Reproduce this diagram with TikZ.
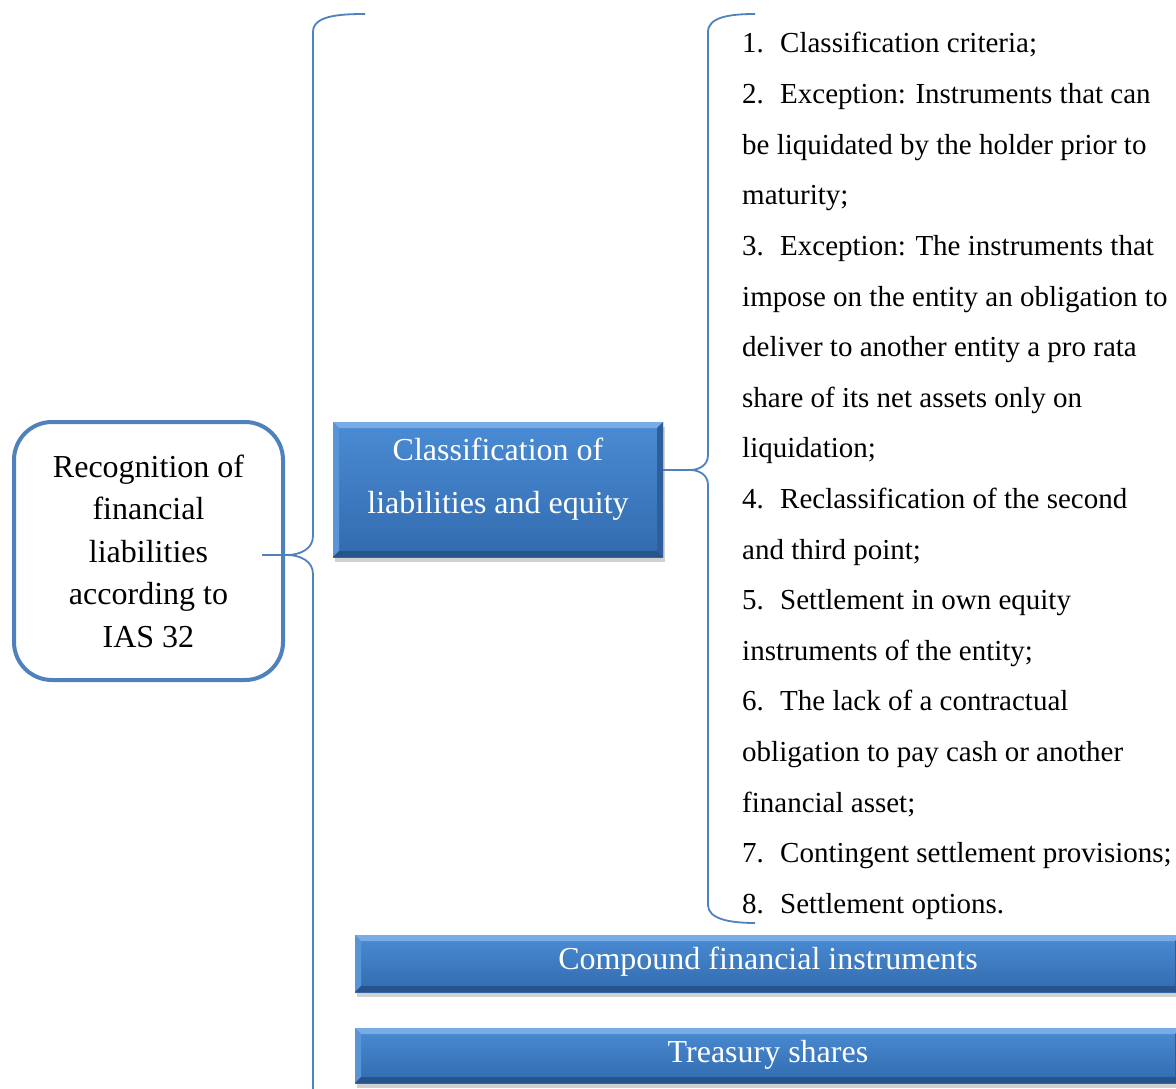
\documentclass[tikz,border=0pt]{standalone}
\usepackage{fontspec}
\setmainfont{Liberation Serif}
\usetikzlibrary{shadows,calc}

\definecolor{linkblue}{RGB}{79,129,189}
\definecolor{boxtop}{RGB}{74,140,212}
\definecolor{boxbot}{RGB}{50,106,174}
\definecolor{bevhi}{RGB}{120,172,230}
\definecolor{bevlo}{RGB}{40,84,142}

\newcommand\itemnum[1]{\makebox[38pt][l]{#1}}

\tikzset{
  link/.style={draw=linkblue, line width=1.8pt},
  bluebox/.style={
    rectangle, inner sep=0pt, top color=boxtop, bottom color=boxbot,
    drop shadow={opacity=0.3, shadow xshift=2pt, shadow yshift=-5pt, fill=black!60},
    path picture={
      \fill[bevhi] (path picture bounding box.north west) -- (path picture bounding box.north east)
        -- ([xshift=-6pt,yshift=-6pt]path picture bounding box.north east)
        -- ([xshift=6pt,yshift=-6pt]path picture bounding box.north west) -- cycle;
      \fill[boxtop!92!white] (path picture bounding box.north west) -- (path picture bounding box.south west)
        -- ([xshift=6pt,yshift=6pt]path picture bounding box.south west)
        -- ([xshift=6pt,yshift=-6pt]path picture bounding box.north west) -- cycle;
      \fill[bevlo] (path picture bounding box.south west) -- (path picture bounding box.south east)
        -- ([xshift=-6pt,yshift=6pt]path picture bounding box.south east)
        -- ([xshift=6pt,yshift=6pt]path picture bounding box.south west) -- cycle;
      \fill[boxbot!90!black] (path picture bounding box.north east) -- (path picture bounding box.south east)
        -- ([xshift=-6pt,yshift=6pt]path picture bounding box.south east)
        -- ([xshift=-6pt,yshift=-6pt]path picture bounding box.north east) -- cycle;
    }},
  boxlabel/.style={text=white, inner sep=0pt, align=center, font=\fontsize{32}{53}\selectfont},
  rootbox/.style={draw=linkblue, line width=4pt, rounded corners=38pt, fill=white,
    minimum width=269pt, minimum height=258pt, inner sep=0pt, align=center,
    font=\fontsize{32}{42.5}\selectfont},
  listline/.style={anchor=base west, inner sep=0pt, font=\fontsize{29}{29}\selectfont},
}

\begin{document}
\begin{tikzpicture}[x=1pt, y=-1pt]
  \useasboundingbox (0,0) rectangle (1176,1089);

  % root topic
  \node[rootbox] (recog) at (148.5,551)
    {Recognition of\\financial\\liabilities\\according to\\IAS 32};

  % first-level topics
  \node[bluebox, minimum width=330pt, minimum height=135pt] (class) at (498,489.5) {};
  \node[boxlabel] (classlbl) at (498,479) {Classification of\\liabilities and equity};

  \node[bluebox, minimum width=826pt, minimum height=57pt] (compound) at (768,963.5) {};
  \node[boxlabel] (compoundlbl) at (768,962) {Compound financial instruments};

  \node[bluebox, minimum width=826pt, minimum height=55pt] (treasury) at (768,1055.5) {};
  \node[boxlabel] (treasurylbl) at (768,1055) {Treasury shares};

  % items of the classification topic
  \foreach [count=\k] \t in {
      {\itemnum{1.}Classification criteria;},
      {\itemnum{2.}Exception: Instruments that can},
      {be liquidated by the holder prior to},
      {maturity;},
      {\itemnum{3.}Exception: The instruments that},
      {impose on the entity an obligation to},
      {deliver to another entity a pro rata},
      {share of its net assets only on},
      {liquidation;},
      {\itemnum{4.}Reclassification of the second},
      {and third point;},
      {\itemnum{5.}Settlement in own equity},
      {instruments of the entity;},
      {\itemnum{6.}The lack of a contractual},
      {obligation to pay cash or another},
      {financial asset;},
      {\itemnum{7.}Contingent settlement provisions;},
      {\itemnum{8.}Settlement options.}}
    \node[listline] (l\k) at (742,{53+(\k-1)*50.6}) {\t};

  % brace from the root topic
  \coordinate (b1top) at (365,14);
  \coordinate (b1tip) at (287,555);
  \draw[link] (b1top) .. controls (338,14) and (313,16) .. (313,32)
    -- (313,536) .. controls (313,549) and (300,555) .. (b1tip)
    .. controls (300,555) and (313,561) .. (313,574) -- (313,1100);
  \draw[link] ([xshift=-23pt]recog.east |- b1tip) -- (b1tip);

  % brace from the classification topic
  \coordinate (b2top) at (755,14);
  \coordinate (b2tip) at (690,470);
  \coordinate (b2bot) at (755,923);
  \draw[link] (b2top) .. controls (730,14) and (708,17) .. (708,32)
    -- (708,455) .. controls (708,466) and (698,470) .. (b2tip)
    .. controls (698,470) and (708,474) .. (708,485)
    -- (708,905) .. controls (708,919) and (730,923) .. (b2bot);
  \draw[link] (class.east |- b2tip) -- (b2tip);
\end{tikzpicture}
\end{document}
